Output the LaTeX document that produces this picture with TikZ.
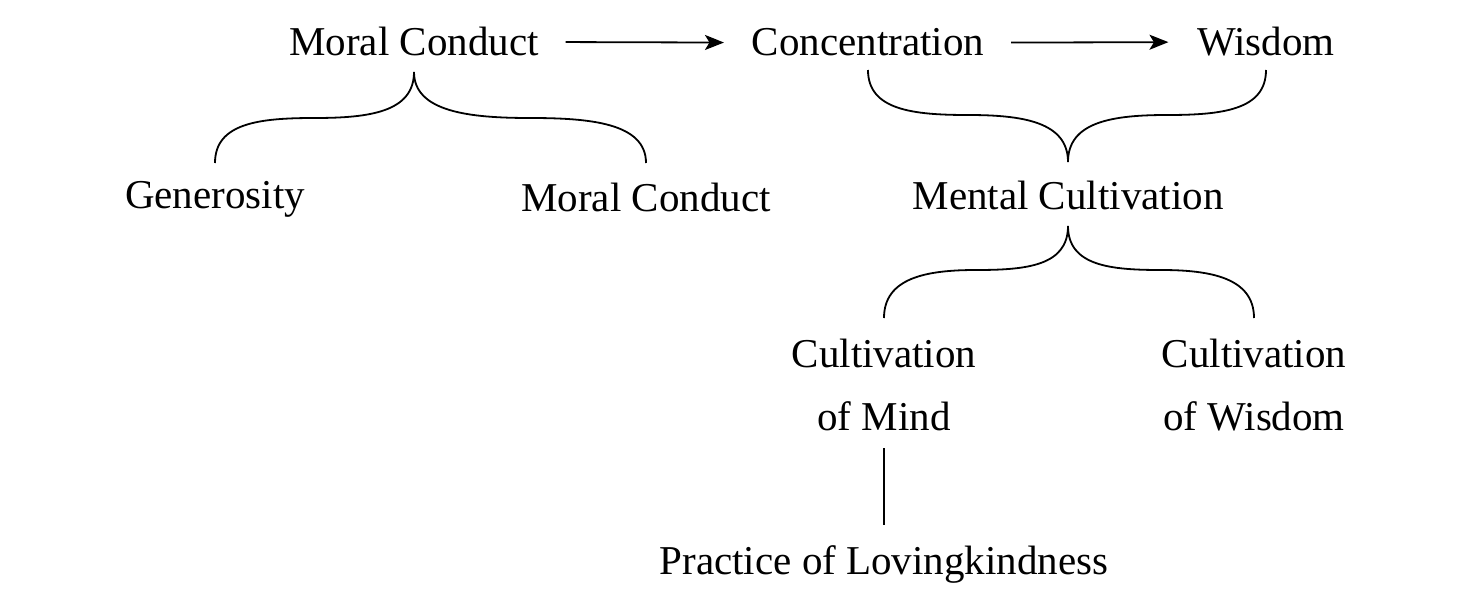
\documentclass[tikz,border=0pt]{standalone}
\usepackage{fontspec}
\setmainfont{Liberation Serif}
\usetikzlibrary{arrows.meta,calc}
\begin{document}
\begin{tikzpicture}[x=1pt,y=-1pt,line width=1.8pt,
  lbl/.style={anchor=base,inner sep=0pt,font=\fontsize{41}{63}\selectfont,align=center},
  arr/.style={-{Stealth[length=19pt,width=15pt,inset=4.5pt]}}]
\useasboundingbox (0,0) rectangle (1476,610);
% nodes
\node[lbl] (mc1)  at (414,56)  {Moral Conduct};
\node[lbl] (conc) at (868,56)  {Concentration};
\node[lbl] (wis)  at (1266,56) {Wisdom};
\node[lbl] (gen)  at (215,208) {Generosity};
\node[lbl] (mc2)  at (646,211) {Moral Conduct};
\node[lbl] (ment) at (1068,209) {Mental Cultivation};
\node[lbl] (cmind) at (884,430) {Cultivation\\of Mind};
\node[lbl] (cwis)  at (1254,430) {Cultivation\\of Wisdom};
\node[lbl] (prac)  at (884,574) {Practice of Lovingkindness};
% arrows
\draw[arr,shorten <=26pt,shorten >=27pt] (mc1.east) -- (conc.west);
\draw[arr,shorten <=26pt,shorten >=28pt] (conc.east) -- (wis.west);
% brace 1
\draw (gen |- 0,163) .. controls +(0,-40) and +(-55,0) .. ($(gen |- 0,118)!0.5!(mc1 |- 0,118)$)
  .. controls +(55,0) and +(0,40) .. (mc1 |- 0,72)
  .. controls +(0,40) and +(-60,0) .. ($(mc1 |- 0,118)!0.5!(mc2 |- 0,118)$)
  .. controls +(60,0) and +(0,-40) .. (mc2 |- 0,163);
% brace 2
\draw (conc |- 0,70) .. controls +(0,40) and +(-55,0) .. ($(conc |- 0,115)!0.5!(ment |- 0,115)$)
  .. controls +(55,0) and +(0,-40) .. (ment |- 0,162)
  .. controls +(0,-40) and +(-55,0) .. ($(ment |- 0,115)!0.5!(wis |- 0,115)$)
  .. controls +(55,0) and +(0,40) .. (wis |- 0,70);
% brace 3
\draw (cmind |- 0,318) .. controls +(0,-40) and +(-50,0) .. ($(cmind |- 0,270)!0.5!(ment |- 0,270)$)
  .. controls +(50,0) and +(0,40) .. (ment |- 0,226)
  .. controls +(0,40) and +(-50,0) .. ($(ment |- 0,270)!0.5!(cwis |- 0,270)$)
  .. controls +(50,0) and +(0,-40) .. (cwis |- 0,318);
% line
\draw (cmind |- 0,448) -- (prac |- 0,525);
\end{tikzpicture}
\end{document}
